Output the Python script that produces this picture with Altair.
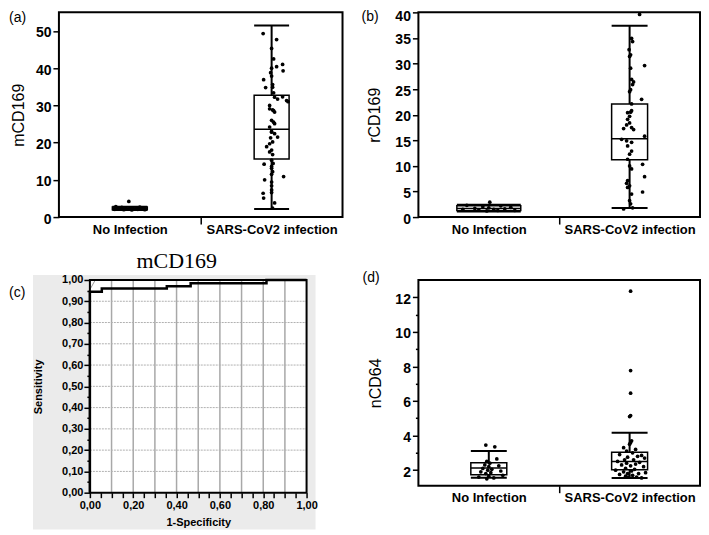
import altair as alt
import pandas as pd

FONT = "Liberation Sans"
SERIF = "Liberation Serif"

categories = ["No Infection", "SARS-CoV2 infection"]

# ---------------- panel (a): mCD169 ----------------
a_lo = [1.9, 2.2]
a_q1 = [2.0, 15.6]
a_med = [2.4, 23.6]
a_q3 = [2.7, 32.7]
a_hi = [2.8, 51.5]
a_noinf_vals = [4.2, 2.8, 2.7, 2.6, 2.5, 2.5, 2.4, 2.4, 2.3, 2.3, 2.2, 2.1, 2.1, 2.0, 2.0, 1.9]
a_noinf_jit = [-1, -14, 10, -8, 14, 3, -11, 7, -4, 12, 0, -15, 8, -6, 15, 2]
a_sars_vals = [49.3, 47.7, 45.3, 42.5, 41.0, 40.4, 40.0, 39.3, 38.8, 37.9, 36.9, 35.6, 34.9,
               34.8, 33.4, 32.3, 32.2, 31.7, 31.3, 31.0, 30.0, 29.1, 28.8, 28.6, 28.2, 26.0,
               25.5, 25.1, 24.2, 23.0, 22.8, 22.4, 21.5, 21.3, 20.2, 19.7, 18.9, 18.0, 17.5,
               16.8, 15.3, 14.4, 14.2, 13.6, 13.1, 12.2, 11.5, 10.9, 10.0, 9.4, 8.4, 7.3, 6.6,
               6.4, 5.1, 3.8, 2.4]
a_sars_jit = [-8.5, 5, 0, 2, 11, 5, 0, 11.5, -1, 0, -8, 1, 1, -6, 2, 11, 3, 6, 15, 16.5, -2,
              -2, 1, 2, 3, 0, 2, 3, -2, 0, 0, 3, 6, -1, 1, -2, -5, 0, -2, 1, 0, 1.5, -7.5, 0, 0,
              1, 0, 12, -7, 0, 0, 0, 0, -8.5, -8, 3, 1]
a_yticks = [0, 10, 20, 30, 40, 50]

# ---------------- panel (b): rCD169 ----------------
b_lo = [1.1, 1.75]
b_q1 = [1.3, 11.2]
b_med = [1.7, 15.3]
b_q3 = [2.2, 22.1]
b_hi = [2.4, 37.4]
b_noinf_vals = [2.9, 2.3, 2.2, 2.0, 1.9, 1.8, 1.7, 1.6, 1.5, 1.5, 1.4, 1.3, 1.3, 1.2]
b_noinf_jit = [1, -22, 12, -6, 22, 0, -14, 16, -26, 5, -10, 26, 9, -2]
b_sars_vals = [39.6, 34.9, 34.3, 32.7, 31.7, 31.4, 29.6, 29.1, 26.9, 26.4, 25.9, 24.9, 24.5,
               23.0, 22.1, 20.8, 20.5, 20.4, 19.7, 19.1, 18.4, 18.0, 17.5, 17.3, 17.1, 15.8,
               15.2, 14.9, 14.6, 13.9, 12.9, 12.3, 11.3, 10.3, 10.0, 9.4, 7.9, 7.1, 6.6, 6.1,
               5.8, 4.9, 4.5, 3.2, 2.6, 1.6, 1.8]
b_sars_jit = [10, 2, 3, -0.5, 1, 0, 15, 1, 2, 4, 3, 1, 0, 12, 2, 2, 1, -2, 0, -2, 0, -3, 2, -6,
              4, 15, -8, -3, 2, -2, 2, 0, -2, 13, 0, 2, 15, -2, -3, 0, -2, 13, 2, 0, 1, -6, 3]
b_yticks = [0, 5, 10, 15, 20, 25, 30, 35, 40]

# ---------------- panel (c): ROC mCD169 ----------------
roc_fpr = [0, 0, 0.055, 0.055, 0.355, 0.355, 0.465, 0.465, 0.815, 0.815, 1.0]
roc_tpr = [0, 0.945, 0.945, 0.96, 0.96, 0.97, 0.97, 0.985, 0.985, 1.0, 1.0]
ref_x = [0.0, 0.025]
ref_y = [0.955, 1.0]
c_ticks = [0.0, 0.05, 0.1, 0.15, 0.2, 0.25, 0.3, 0.35, 0.4, 0.45, 0.5, 0.55, 0.6, 0.65, 0.7,
           0.75, 0.8, 0.85, 0.9, 0.95, 1.0]
c_grid = [0.1, 0.2, 0.3, 0.4, 0.5, 0.6, 0.7, 0.8, 0.9]

# ---------------- panel (d): nCD64 ----------------
d_lo = [1.56, 1.54]
d_q1 = [1.73, 2.02]
d_med = [2.12, 2.5]
d_q3 = [2.42, 3.04]
d_hi = [3.1, 4.16]
d_noinf_vals = [3.45, 3.35, 2.65, 2.5, 2.4, 2.3, 2.25, 2.2, 2.1, 2.05, 2.0, 1.95, 1.9, 1.85,
                1.8, 1.7, 1.65, 1.6, 1.55, 1.5]
d_noinf_jit = [-3, 6, 8, -2, 1, -4, 10, 0, -6, 3, -1, 12, -8, 2, -3, 14, 0, -10, 5, -2]
d_sars_vals = [12.35, 7.76, 6.45, 5.16, 5.1, 3.7, 3.6, 3.5, 3.3, 3.2, 3.1, 3.0, 2.9, 2.85, 2.8,
               2.75, 2.7, 2.6, 2.6, 2.5, 2.45, 2.4, 2.35, 2.3, 2.25, 2.2, 2.1, 2.05, 2.0, 1.95,
               1.9, 1.85, 1.8, 1.8, 1.75, 1.7, 1.65, 1.6, 1.6, 1.55]
d_sars_jit = [1, 1, 1, 1, 0, 2, 1, 0, -6, 6, -3, 3, -10, 12, 8, -2, 15, -5, 4, -12, 10, -3, 6,
              -8, 1, 14, -4, 5, -14, 2, -6, 16, -2, 9, -10, 3, -4, 7, -1, 12]
d_yticks = [2, 3, 4, 5, 6, 7, 8, 9, 10, 11, 12]

ONE = pd.DataFrame({"k": [1]})


def tag_layer(txt, x, y, size=14, font=FONT, weight="normal", align="left", baseline="top"):
    return alt.Chart(pd.DataFrame({"t": [txt]})).mark_text(
        align=align, baseline=baseline, fontSize=size, font=font, fontWeight=weight,
        color="black").encode(x=alt.value(x), y=alt.value(y), text="t:N")


def box_panel(lo, q1, med, q3, hi, no_v, no_j, sa_v, sa_j, hw_px, W, H, ydom, yvals,
              ytitle, ytitle_pad, tag, tag_x, tag_y, minor=False, top_label=None):
    ppu = W / 2.0
    centers = [0.5, 1.5]
    box = pd.DataFrame({"cat": categories, "xc": centers, "lo": lo, "q1": q1, "med": med,
                        "q3": q3, "hi": hi})
    box["x1"] = [c - h / ppu for c, h in zip(centers, hw_px)]
    box["x2"] = [c + h / ppu for c, h in zip(centers, hw_px)]
    pts = pd.DataFrame({
        "px": [0.5 + j / ppu for j in no_j] + [1.5 + j / ppu for j in sa_j],
        "py": list(no_v) + list(sa_v)})
    xs = alt.Scale(domain=[0, 2], nice=False, zero=False)
    ys = alt.Scale(domain=ydom, nice=False, zero=False)
    xaxis = alt.Axis(
        values=[0.5, 1, 1.5],
        labelExpr="datum.value == 0.5 ? 'No Infection' : (datum.value == 1.5 ? 'SARS-CoV2 infection' : '')",
        title=None, grid=False, domain=False, tickSize=7, tickWidth=1.5, tickColor="black",
        tickOpacity=alt.condition("datum.value == 1", alt.value(1), alt.value(0)),
        labelFont=FONT, labelFontSize=13, labelFontWeight="bold", labelPadding=-1,
        labelColor="black", labelAngle=0, labelOverlap=False, labelFlush=False)
    common_y = dict(values=yvals, title=ytitle, grid=False, domain=False, tickWidth=1.5,
                    tickColor="black", labelFont=FONT, labelFontSize=14,
                    labelFontWeight="bold", labelPadding=2, labelColor="black",
                    titleFont=FONT, titleFontSize=16, titleFontWeight="normal",
                    titleColor="black", titlePadding=ytitle_pad, minExtent=23,
                    maxExtent=23, labelOverlap=False)
    if top_label is not None:
        test = "datum.value == %s" % top_label
        common_y["labelBaseline"] = alt.condition(test, alt.value("top"), alt.value("middle"))
        common_y["labelOffset"] = alt.condition(test, alt.value(-3), alt.value(2))
    else:
        common_y["labelOffset"] = 2
    if minor:
        yaxis = alt.Axis(
            labelExpr="datum.value % 2 == 0 ? datum.value : ''",
            tickSize=alt.condition("datum.value % 2 == 0", alt.value(6), alt.value(3)),
            **common_y)
    else:
        yaxis = alt.Axis(tickSize=6, **common_y)

    def X(f):
        return alt.X(f, scale=xs, axis=xaxis)

    def Y(f):
        return alt.Y(f, scale=ys, axis=yaxis)

    base = alt.Chart(box)
    whisk = base.mark_rule(color="black", strokeWidth=2).encode(
        x=X("xc:Q"), y=Y("lo:Q"), y2="hi:Q")
    rect = base.mark_rect(fill="white", stroke="black", strokeWidth=1.5).encode(
        x=X("x1:Q"), x2="x2:Q", y=Y("q1:Q"), y2="q3:Q")
    medr = base.mark_rule(color="black", strokeWidth=1.5).encode(
        x=X("x1:Q"), x2="x2:Q", y=Y("med:Q"))
    caplo = base.mark_rule(color="black", strokeWidth=2).encode(
        x=X("x1:Q"), x2="x2:Q", y=Y("lo:Q"))
    caphi = base.mark_rule(color="black", strokeWidth=2).encode(
        x=X("x1:Q"), x2="x2:Q", y=Y("hi:Q"))
    dots = alt.Chart(pts).mark_circle(size=14, color="black", opacity=1).encode(
        x=X("px:Q"), y=Y("py:Q"))
    tagc = tag_layer(tag, tag_x, tag_y)
    return alt.layer(whisk, rect, medr, caplo, caphi, dots, tagc).properties(
        width=W, height=H)


panel_a = box_panel(a_lo, a_q1, a_med, a_q3, a_hi, a_noinf_vals, a_noinf_jit, a_sars_vals,
                    a_sars_jit, [17.5, 17.5], 284, 205, [0, 55], a_yticks, "mCD169", 9,
                    "(a)", -50, -1)
panel_b = box_panel(b_lo, b_q1, b_med, b_q3, b_hi, b_noinf_vals, b_noinf_jit, b_sars_vals,
                    b_sars_jit, [32, 18], 282, 205, [0, 40], b_yticks, "rCD169", 13,
                    "(b)", -57, -2, top_label=40)
panel_d = box_panel(d_lo, d_q1, d_med, d_q3, d_hi, d_noinf_vals, d_noinf_jit, d_sars_vals,
                    d_sars_jit, [18, 18], 282, 206, [1.1, 13.0], d_yticks, "nCD64", 12,
                    "(d)", -56, -9, minor=True)

# ---------------- panel (c) ----------------
# the ROC plot sits 31 px to the right of panel (a)'s plot; the panel's view is widened
# and the plotting range starts at OFF so the column stays aligned.
OFF = 31
WC, HC = 217, 213
WV = WC + OFF
roc = pd.DataFrame({"fpr": roc_fpr, "tpr": roc_tpr, "i": list(range(len(roc_fpr)))})
refd = pd.DataFrame({"rx": ref_x, "ry": ref_y, "i": [0, 1]})
gridv = pd.DataFrame({"gx": c_grid})
gridh = pd.DataFrame({"gy": c_grid})
fmt = "replace(format(datum.value, '.2f'), '.', ',')"
cxs = alt.Scale(domain=[0, 1], range=[OFF, WV], nice=False, zero=False)
cys = alt.Scale(domain=[0, 1], nice=False, zero=False)
cx_axis = alt.Axis(values=c_ticks,
                   labelExpr="(round(datum.value*100) % 20 == 0) ? " + fmt + " : ''",
                   title="1-Specificity", titleFont=FONT, titleFontSize=11,
                   titleFontWeight="bold", titlePadding=6, titleColor="black",
                   tickSize=5, tickWidth=1.5, tickColor="black", grid=False, domain=False,
                   labelFont=FONT, labelFontSize=11, labelFontWeight="bold", labelPadding=2,
                   labelColor="black", labelFlush=False, labelOverlap=False, labelAngle=0,
                   zindex=1)
cy_axis = alt.Axis(values=c_ticks,
                   labelExpr="(round(datum.value*100) % 10 == 0) ? " + fmt + " : ''",
                   tickSize=alt.condition("round(datum.value*100) % 10 == 0", alt.value(6),
                                          alt.value(3)),
                   title="Sensitivity", titleFont=FONT, titleFontSize=11,
                   titleFontWeight="bold", titlePadding=18, titleColor="black",
                   tickWidth=1.5, tickColor="black", grid=False, domain=False,
                   labelFont=FONT, labelFontSize=11, labelFontWeight="bold", labelPadding=1,
                   labelColor="black", labelOverlap=False, minExtent=28, maxExtent=28,
                   offset=-OFF, zindex=1)


def CX(f):
    return alt.X(f, scale=cxs, axis=cx_axis)


def CY(f):
    return alt.Y(f, scale=cys, axis=cy_axis)


guide = alt.Chart(ONE).mark_rule(opacity=0, strokeWidth=0.01).encode(
    x=alt.value(OFF), x2=alt.value(OFF + 1), y=alt.value(-36))
bg = alt.Chart(ONE).mark_rect(color="#ebebeb").encode(
    x=alt.value(OFF - 57), x2=alt.value(OFF + 226), y=alt.value(-5), y2=alt.value(HC + 37))
white = alt.Chart(ONE).mark_rect(color="white").encode(
    x=alt.value(OFF), x2=alt.value(WV), y=alt.value(0), y2=alt.value(HC))
vgrid = alt.Chart(gridv).mark_rule(color="#a8a8a8", strokeWidth=1.5).encode(
    x=CX("gx:Q"), y=alt.value(0), y2=alt.value(HC))
hgrid = alt.Chart(gridh).mark_rule(color="#b0b0b0", strokeWidth=1, strokeDash=[2, 1]).encode(
    y=CY("gy:Q"), x=alt.value(OFF), x2=alt.value(WV))
refl = alt.Chart(refd).mark_line(color="#999999", strokeWidth=1).encode(
    x=CX("rx:Q"), y=CY("ry:Q"), order="i:Q")
rocl = alt.Chart(roc).mark_line(color="black", strokeWidth=2.5).encode(
    x=CX("fpr:Q"), y=CY("tpr:Q"), order="i:Q")
frame = alt.Chart(ONE).mark_rect(fill=None, stroke="black", strokeWidth=2).encode(
    x=alt.value(OFF), x2=alt.value(WV), y=alt.value(0), y2=alt.value(HC))
ctitle = tag_layer("mCD169", OFF + 87, -12, size=22, font=SERIF, align="center",
                   baseline="alphabetic")
ctag = tag_layer("(c)", OFF - 81, 6)
panel_c = alt.layer(guide, bg, white, vgrid, hgrid, refl, rocl, frame, ctitle,
                    ctag).properties(width=WV, height=HC,
                                     view=alt.ViewBackground(stroke="transparent"))

chart = alt.concat(panel_a, panel_b, panel_c, panel_d, columns=2,
                   spacing={"row": 6, "column": 17}).properties(
    padding={"left": 0, "top": 0, "right": 0, "bottom": 0}
).configure_view(stroke="black", strokeWidth=2).configure_axis(
    domain=False, labelFont=FONT, titleFont=FONT)

chart.save("out.html", embed_options={"renderer": "svg", "actions": False})
